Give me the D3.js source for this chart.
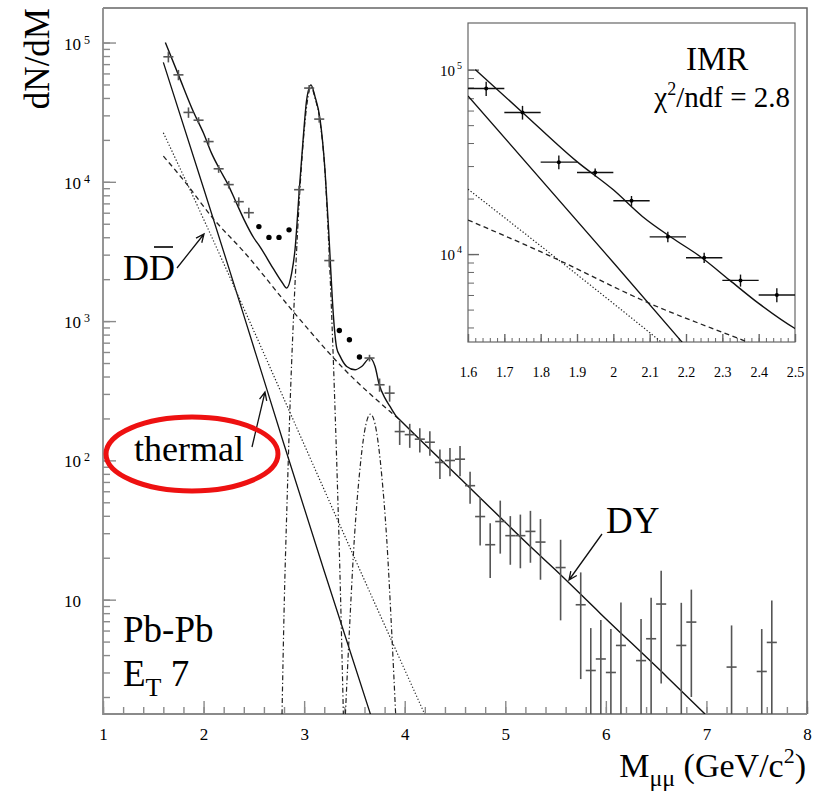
<!DOCTYPE html>
<html>
<head>
<meta charset="utf-8">
<script src="https://cdnjs.cloudflare.com/ajax/libs/d3/7.8.5/d3.min.js"></script>
<style>
  body { margin: 0; background: #fff; }
  text { font-family: "Liberation Serif", "Times New Roman", serif; fill: #000; }
</style>
</head>
<body>
<div id="chart"></div>
<script>
// Data
//= ================================

// measured points drawn as crosses (bin centre, yield, error)
var crossMass = [1.65, 1.75, 1.85, 1.95, 2.05, 2.15, 2.25, 2.35, 2.45,
  2.95, 3.05, 3.15, 3.25,
  3.65, 3.75, 3.85, 3.95, 4.05, 4.15, 4.25, 4.35, 4.45, 4.55, 4.65, 4.75, 4.85, 4.95,
  5.05, 5.15, 5.25, 5.35, 5.55, 5.75, 5.85, 5.95, 6.05, 6.15, 6.35, 6.45, 6.55,
  6.75, 6.85, 7.25, 7.55, 7.65];
var crossYield = [79000, 58600, 31500, 27700, 19450, 12400, 9550, 7200, 6000,
  8780, 47100, 28200, 2720,
  543, 349, 304, 161, 153, 142, 135, 96.6, 99.8, 102, 65.8, 39.5, 24.8, 36.4,
  28.8, 28.8, 30.9, 25.9, 17.0, 9.19, 3.10, 3.75, 3.0, 4.69, 3.65, 5.24, 9.3,
  4.69, 6.9, 3.28, 3.05, 4.93];
var crossErr = [7000, 5000, 2700, 1400, 1200, 800, 600, 540, 520,
  600, 2500, 1600, 270,
  30, 38, 40, 32, 30, 28, 27, 23, 23, 25, 17, 15, 10.5, 15,
  11, 12, 12.5, 12, 9.9, 6.5, 3.15, 3.4, 3.15, 4.86, 3.6, 5.1, 6.8,
  4.8, 4.9, 3.25, 3.1, 4.94];

// points left out of the fit (filled dots)
var dotMass = [2.55, 2.65, 2.75, 2.85, 3.35, 3.45, 3.55];
var dotYield = [4770, 3990, 3990, 4520, 857, 735, 552];

// total fit (solid)
var fitMass = [1.62, 1.75, 1.9, 2.0, 2.08, 2.16, 2.24, 2.32, 2.40, 2.5, 2.56, 2.69, 2.78,
  2.826, 2.876, 2.909, 2.952, 2.992, 3.025, 3.068, 3.108, 3.158, 3.207, 3.24, 3.26,
  3.28, 3.30, 3.324, 3.357, 3.423, 3.506, 3.572, 3.655, 3.705, 3.747, 3.804, 3.854,
  3.92, 3.953, 4.616, 5.279, 5.5, 5.942, 6.605, 6.986];
var fitYield = [100000, 58600, 31700, 22300, 16000, 12300, 9670, 7220, 5400, 3950, 3430, 2400, 1900,
  1726, 2210, 3250, 8780, 21100, 38800, 49700, 40900, 28200, 12200, 5000, 2700,
  1450, 900, 640, 560, 472, 447, 472, 542, 472, 349, 280, 244,
  206, 195, 66.9, 23, 16.3, 8.0, 2.8, 1.51];

// thermal (solid, steep)
var thermalMass = [1.6, 2.0, 2.4, 2.8, 3.2, 3.66];
var thermalYield = [72000, 9000, 1100, 130, 16, 1.5];

// dotted component
var dottedMass = [1.6, 2.0, 2.5, 3.0, 3.5, 4.2];
var dottedYield = [22500, 5400, 850, 130, 20, 1.5];

// open charm DDbar (dashed)
var charmMass = [1.6, 1.8, 2.1, 2.4, 2.9, 3.4, 3.95];
var charmYield = [15300, 10300, 5400, 3150, 1150, 450, 196];

// J/psi and psi' (dash-dot)
var jpsiMass = [2.78, 2.80, 2.83, 2.86, 2.89, 2.92, 2.95, 2.99, 3.03, 3.068, 3.11, 3.16,
  3.21, 3.24, 3.27, 3.30, 3.33, 3.36, 3.39];
var jpsiYield = [1.5, 8, 50, 250, 900, 2700, 7000, 19000, 37000, 48000, 39500, 26500,
  11000, 4200, 1300, 330, 70, 12, 1.5];
var psiMass = [3.41, 3.45, 3.50, 3.55, 3.60, 3.66, 3.72, 3.77, 3.82, 3.87, 3.91];
var psiYield = [1.5, 6, 28, 80, 160, 215, 160, 80, 28, 6, 1.5];

// tick labels
var xTickValues = [1, 2, 3, 4, 5, 6, 7, 8];
var xTickLabels = ["1", "2", "3", "4", "5", "6", "7", "8"];
var yTickValues = [10, 100, 1000, 10000, 100000];
var yTickExp = ["", "2", "3", "4", "5"];
var insetXTickValues = [1.6, 1.7, 1.8, 1.9, 2.0, 2.1, 2.2, 2.3, 2.4, 2.5];
var insetXTickLabels = ["1.6", "1.7", "1.8", "1.9", "2", "2.1", "2.2", "2.3", "2.4", "2.5"];
var insetYTickValues = [10000, 100000];
var insetYTickExp = ["4", "5"];

// Step 1: chart frame
//= ================================
var svgWidth = 813;
var svgHeight = 795;
var plot = { left: 103, right: 807, top: 8, bottom: 714 };
var inset = { left: 468, right: 795, top: 23, bottom: 342 };
var axisColor = "#8a8a8a";

var svg = d3.select("#chart")
  .append("svg")
  .attr("width", svgWidth)
  .attr("height", svgHeight);

var x = d3.scaleLinear().domain([1, 8]).range([plot.left, plot.right]);
var y = d3.scaleLog().domain([1.51, 1.77e5]).range([plot.bottom, plot.top]);
var ix = d3.scaleLinear().domain([1.6, 2.5]).range([inset.left, inset.right]);
var iy = d3.scaleLog().domain([3336, 1.79e5]).range([inset.bottom, inset.top]);

var defs = svg.append("defs");
defs.append("clipPath").attr("id", "mainClip").append("rect")
  .attr("x", plot.left).attr("y", plot.top)
  .attr("width", plot.right - plot.left).attr("height", plot.bottom - plot.top);
defs.append("clipPath").attr("id", "insetClip").append("rect")
  .attr("x", inset.left).attr("y", inset.top)
  .attr("width", inset.right - inset.left).attr("height", inset.bottom - inset.top);

// log minor ticks inside a domain
function logTicks(scale) {
  var d = scale.domain(), out = [];
  for (var k = -1; k <= 6; k++) {
    for (var m = 1; m <= 9; m++) {
      var v = m * Math.pow(10, k);
      if (v >= d[0] && v <= d[1]) out.push(v);
    }
  }
  return out;
}

function plainAxis(g, color) {
  g.select(".domain").remove();
  g.selectAll(".tick line").attr("stroke", color).attr("stroke-width", 1.4);
  g.selectAll("text").remove();
}

// Step 2: main axes
//= ================================
var yMinor = svg.append("g").attr("transform", `translate(${plot.left},0)`)
  .call(d3.axisLeft(y).tickValues(logTicks(y)).tickSize(-7).tickFormat(""));
plainAxis(yMinor, axisColor);
var yMajor = svg.append("g").attr("transform", `translate(${plot.left},0)`)
  .call(d3.axisLeft(y).tickValues(yTickValues).tickSize(-13).tickFormat(""));
plainAxis(yMajor, axisColor);

var xMinor = svg.append("g").attr("transform", `translate(0,${plot.bottom})`)
  .call(d3.axisBottom(x).tickValues(d3.range(1, 8.001, 0.2)).tickSize(-7).tickFormat(""));
plainAxis(xMinor, axisColor);
var xMajor = svg.append("g").attr("transform", `translate(0,${plot.bottom})`)
  .call(d3.axisBottom(x).tickValues(xTickValues).tickSize(-13)
    .tickFormat((d, i) => xTickLabels[i]).tickPadding(14));
xMajor.select(".domain").remove();
xMajor.selectAll(".tick line").attr("stroke", axisColor).attr("stroke-width", 1.4);
xMajor.selectAll("text")
  .attr("font-family", "Liberation Serif")
  .attr("font-size", 17)
  .attr("fill", "#000");

// frame
svg.append("path")
  .attr("d", `M${plot.left},${plot.top}H${plot.right}V${plot.bottom}`)
  .attr("fill", "none").attr("stroke", "#666").attr("stroke-width", 1.5);
svg.append("path")
  .attr("d", `M${plot.left},${plot.top}V${plot.bottom}H${plot.right}`)
  .attr("fill", "none").attr("stroke", axisColor).attr("stroke-width", 1.8);

// y labels 10^n
yTickValues.forEach(function(v, i) {
  svg.append("text")
    .attr("x", 81).attr("y", y(v) + 7)
    .attr("text-anchor", "end")
    .attr("font-size", 17)
    .text("10");
  if (yTickExp[i]) {
    svg.append("text")
      .attr("x", 84).attr("y", y(v) + 1)
      .attr("font-size", 12)
      .text(yTickExp[i]);
  }
});

// axis titles
svg.append("text")
  .attr("transform", "translate(49,8) rotate(-90)")
  .attr("text-anchor", "end")
  .attr("font-size", 35)
  .text("dN/dM");

var xTitle = svg.append("text")
  .attr("x", 806).attr("y", 777)
  .attr("text-anchor", "end")
  .attr("font-size", 34);
xTitle.append("tspan").text("M");
xTitle.append("tspan").attr("font-size", 24).attr("dy", 9).text("μμ");
xTitle.append("tspan").attr("dy", -9).text(" (GeV/c");
xTitle.append("tspan").attr("font-size", 22).attr("dy", -14).text("2");
xTitle.append("tspan").attr("dy", 14).text(")");

// Step 3: curves
//= ================================
function curvePath(xs, ys, xScale, yScale) {
  var pts = xs.map((m, i) => [m, ys[i]]);
  return d3.line()
    .x(d => xScale(d[0]))
    .y(d => yScale(d[1]))
    .curve(d3.curveMonotoneX)(pts);
}

function drawCurves(g, xScale, yScale, withPeaks) {
  g.append("path").attr("d", curvePath(thermalMass, thermalYield, xScale, yScale))
    .attr("fill", "none").attr("stroke", "#111").attr("stroke-width", 1.3);
  g.append("path").attr("d", curvePath(dottedMass, dottedYield, xScale, yScale))
    .attr("fill", "none").attr("stroke", "#222").attr("stroke-width", 1.2)
    .attr("stroke-dasharray", "1.3,2");
  g.append("path").attr("d", curvePath(charmMass, charmYield, xScale, yScale))
    .attr("fill", "none").attr("stroke", "#222").attr("stroke-width", 1.3)
    .attr("stroke-dasharray", "5,3.5");
  if (withPeaks) {
    [[jpsiMass, jpsiYield], [psiMass, psiYield]].forEach(function(c) {
      g.append("path").attr("d", curvePath(c[0], c[1], xScale, yScale))
        .attr("fill", "none").attr("stroke", "#222").attr("stroke-width", 1.2)
        .attr("stroke-dasharray", "5,2.5,1.3,2.5");
    });
  }
  g.append("path").attr("d", curvePath(fitMass, fitYield, xScale, yScale))
    .attr("fill", "none").attr("stroke", "#111").attr("stroke-width", 1.4);
}

var mainG = svg.append("g").attr("clip-path", "url(#mainClip)");
drawCurves(mainG, x, y, true);

// Step 4: data points
//= ================================
var yMin = y.domain()[0];
crossMass.forEach(function(m, i) {
  var v = crossYield[i], e = crossErr[i];
  var lo = Math.max(v - e, yMin * 0.9);
  mainG.append("line")
    .attr("x1", x(m)).attr("x2", x(m))
    .attr("y1", y(lo)).attr("y2", y(v + e))
    .attr("stroke", "#555").attr("stroke-width", 1.6);
  mainG.append("line")
    .attr("x1", x(m - 0.05)).attr("x2", x(m + 0.05))
    .attr("y1", y(v)).attr("y2", y(v))
    .attr("stroke", "#555").attr("stroke-width", 1.6);
});

mainG.selectAll(".dot")
  .data(dotMass)
  .enter()
  .append("circle")
  .attr("cx", d => x(d))
  .attr("cy", (d, i) => y(dotYield[i]))
  .attr("r", 2.7)
  .attr("fill", "#000");

// Step 5: annotations
//= ================================
function arrow(x1, y1, x2, y2) {
  var a = Math.atan2(y2 - y1, x2 - x1), L = 9, w = 0.42;
  svg.append("path")
    .attr("d", `M${x1},${y1}L${x2},${y2}` +
      `M${x2 - L * Math.cos(a - w)},${y2 - L * Math.sin(a - w)}L${x2},${y2}` +
      `L${x2 - L * Math.cos(a + w)},${y2 - L * Math.sin(a + w)}`)
    .attr("fill", "none").attr("stroke", "#111").attr("stroke-width", 1.3);
}

svg.append("text").attr("x", 123).attr("y", 280).attr("font-size", 36).text("DD");
svg.append("line").attr("x1", 154).attr("x2", 173).attr("y1", 247).attr("y2", 247)
  .attr("stroke", "#000").attr("stroke-width", 1.6);
arrow(177, 268, 204, 234);

svg.append("text").attr("x", 134).attr("y", 461).attr("font-size", 36).text("thermal");
arrow(252, 447, 265, 392);
svg.append("ellipse")
  .attr("cx", 192).attr("cy", 454).attr("rx", 86).attr("ry", 37)
  .attr("fill", "none").attr("stroke", "#ee1111").attr("stroke-width", 5);

svg.append("text").attr("x", 606).attr("y", 533).attr("font-size", 37).text("DY");
arrow(602, 534, 569, 580);

svg.append("text").attr("x", 123).attr("y", 642).attr("font-size", 37).text("Pb-Pb");
var et = svg.append("text").attr("x", 123).attr("y", 686).attr("font-size", 37);
et.append("tspan").text("E");
et.append("tspan").attr("font-size", 26).attr("dy", 10).text("T");
et.append("tspan").attr("dy", -10).text(" 7");

// Step 6: inset (IMR)
//= ================================
svg.append("rect")
  .attr("x", inset.left).attr("y", inset.top)
  .attr("width", inset.right - inset.left).attr("height", inset.bottom - inset.top)
  .attr("fill", "#fff").attr("stroke", "#666").attr("stroke-width", 1.2);

var iyMinor = svg.append("g").attr("transform", `translate(${inset.left},0)`)
  .call(d3.axisLeft(iy).tickValues(logTicks(iy)).tickSize(-6).tickFormat(""));
plainAxis(iyMinor, "#666");
var iyMajor = svg.append("g").attr("transform", `translate(${inset.left},0)`)
  .call(d3.axisLeft(iy).tickValues(insetYTickValues).tickSize(-11).tickFormat(""));
plainAxis(iyMajor, "#666");
var ixMinor = svg.append("g").attr("transform", `translate(0,${inset.bottom})`)
  .call(d3.axisBottom(ix).tickValues(d3.range(1.6, 2.501, 0.02)).tickSize(-4).tickFormat(""));
plainAxis(ixMinor, "#666");
var ixMajor = svg.append("g").attr("transform", `translate(0,${inset.bottom})`)
  .call(d3.axisBottom(ix).tickValues(insetXTickValues).tickSize(-8)
    .tickFormat((d, i) => insetXTickLabels[i]).tickPadding(25));
ixMajor.select(".domain").remove();
ixMajor.selectAll(".tick line").attr("stroke", "#666").attr("stroke-width", 1.4);
ixMajor.selectAll("text")
  .attr("font-family", "Liberation Serif")
  .attr("font-size", 14)
  .attr("fill", "#000");
ixMinor.selectAll(".tick line").attr("stroke-width", 1);
iyMinor.selectAll(".tick line").attr("stroke-width", 1);

insetYTickValues.forEach(function(v, i) {
  svg.append("text")
    .attr("x", 455).attr("y", iy(v) + 6)
    .attr("text-anchor", "end")
    .attr("font-size", 15)
    .text("10");
  svg.append("text")
    .attr("x", 457).attr("y", iy(v) - 1)
    .attr("font-size", 10)
    .text(insetYTickExp[i]);
});

var insetG = svg.append("g").attr("clip-path", "url(#insetClip)");
drawCurves(insetG, ix, iy, false);

crossMass.forEach(function(m, i) {
  if (m > 2.5) return;
  var v = crossYield[i], e = crossErr[i];
  insetG.append("line")
    .attr("x1", ix(m)).attr("x2", ix(m))
    .attr("y1", iy(v - e)).attr("y2", iy(v + e))
    .attr("stroke", "#111").attr("stroke-width", 1.4);
  insetG.append("line")
    .attr("x1", ix(m - 0.05)).attr("x2", ix(m + 0.05))
    .attr("y1", iy(v)).attr("y2", iy(v))
    .attr("stroke", "#111").attr("stroke-width", 1.4);
  insetG.append("circle")
    .attr("cx", ix(m)).attr("cy", iy(v)).attr("r", 2)
    .attr("fill", "#000");
});

svg.append("text").attr("x", 686).attr("y", 70).attr("font-size", 33).text("IMR");
var chi = svg.append("text").attr("x", 790).attr("y", 107)
  .attr("text-anchor", "end").attr("font-size", 29);
chi.append("tspan").text("χ");
chi.append("tspan").attr("font-size", 18).attr("dy", -12).text("2");
chi.append("tspan").attr("dy", 12).text("/ndf = 2.8");
</script>
</body>
</html>
